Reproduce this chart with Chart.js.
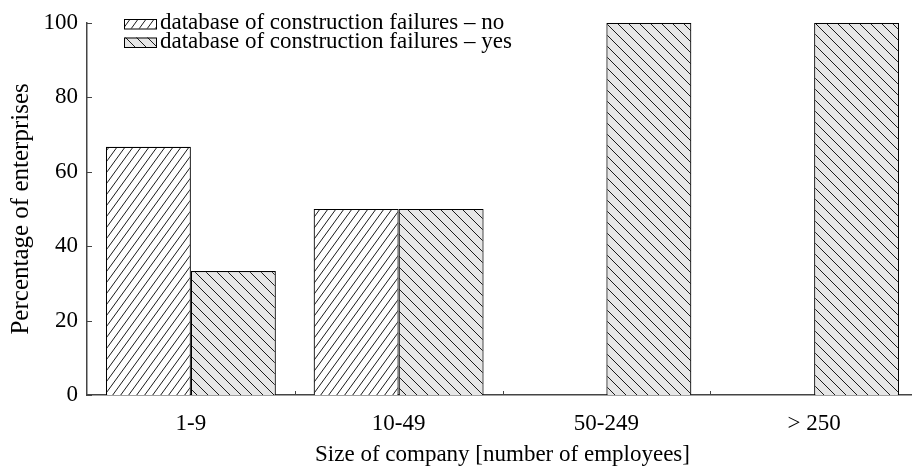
<!DOCTYPE html>
<html>
<head>
<meta charset="utf-8">
<script src="https://cdn.jsdelivr.net/npm/chart.js@4"></script>
<style>
  html, body { margin: 0; padding: 0; overflow: hidden; background: #fff; }
  #wrap { width: 920px; height: 469px; }
</style>
</head>
<body>
<div id="wrap"><canvas id="myChart"></canvas></div>
<script>
const sizeLabels = ["1-9", "10-49", "50-249", "> 250"];
const failuresNo = [66.7, 50, 0, 0];
const failuresYes = [33.3, 50, 100, 100];
const seriesNames = [
  "database of construction failures \u2013 no",
  "database of construction failures \u2013 yes",
];
const yTickValues = [0, 20, 40, 60, 80, 100];

const serif = "'Liberation Serif', 'Times New Roman', serif";

// small tile with one diagonal line, repeated over the bar
const makeHatch = (bg, dir, w, h) => {
  const c = document.createElement("canvas");
  c.width = w;
  c.height = h;
  const g = c.getContext("2d");
  g.fillStyle = bg;
  g.fillRect(0, 0, w, h);
  g.strokeStyle = "#1a1a1a";
  g.lineWidth = 1;
  g.beginPath();
  const segs =
    dir === "/"
      ? [[0, h, w, 0], [-w, h, 0, 0], [w, h, 2 * w, 0]]
      : [[0, 0, w, h], [-w, 0, 0, h], [w, 0, 2 * w, h]];
  segs.forEach(([x1, y1, x2, y2]) => {
    g.moveTo(x1, y1);
    g.lineTo(x2, y2);
  });
  g.stroke();
  return g.createPattern(c, "repeat");
};

const hatchNo = makeHatch("#ffffff", "/", 8, 11);
const hatchYes = makeHatch("#e6e6e6", "\\", 11, 11);

// inside tick marks + legend in the top left corner
const extras = {
  id: "extras",
  afterDraw(chart) {
    const ctx = chart.ctx;
    const x = chart.scales.x;
    const y = chart.scales.y;
    const area = chart.chartArea;
    ctx.save();
    ctx.strokeStyle = "#444";
    ctx.lineWidth = 1;
    ctx.beginPath();
    yTickValues.forEach((v) => {
      const py = Math.round(y.getPixelForValue(v)) + 0.5;
      ctx.moveTo(area.left, py);
      ctx.lineTo(area.left + 5, py);
    });
    for (let i = 0; i < sizeLabels.length - 1; i++) {
      const px =
        Math.round((x.getPixelForValue(i) + x.getPixelForValue(i + 1)) / 2) + 0.5;
      ctx.moveTo(px, area.bottom);
      ctx.lineTo(px, area.bottom - 4);
    }
    ctx.stroke();

    const fills = [hatchNo, hatchYes];
    ctx.font = "23px " + serif;
    ctx.textBaseline = "alphabetic";
    seriesNames.forEach((name, i) => {
      const by = 19 + i * 18.5;
      ctx.fillStyle = fills[i];
      ctx.fillRect(124, by, 32, 9.5);
      ctx.strokeStyle = "#000";
      ctx.strokeRect(124.5, by + 0.5, 32, 9.5);
      ctx.fillStyle = "#000";
      ctx.fillText(name, 160, by + 10);
    });
    ctx.restore();
  },
};

new Chart(document.getElementById("myChart"), {
  type: "bar",
  data: {
    labels: sizeLabels,
    datasets: [
      {
        label: seriesNames[0],
        data: failuresNo,
        backgroundColor: hatchNo,
        borderColor: "#000",
        borderWidth: 1.2,
        borderSkipped: "bottom",
      },
      {
        label: seriesNames[1],
        data: failuresYes,
        backgroundColor: hatchYes,
        borderColor: "#000",
        borderWidth: 1.2,
        borderSkipped: "bottom",
      },
    ],
  },
  options: {
    responsive: true,
    maintainAspectRatio: false,
    animation: false,
    devicePixelRatio: 1,
    categoryPercentage: 0.818,
    barPercentage: 1,
    layout: { padding: { top: 20, right: 2, left: 0, bottom: 0 } },
    plugins: {
      legend: { display: false },
      tooltip: { enabled: false },
    },
    scales: {
      x: {
        grid: { display: false, drawTicks: false },
        border: { display: true, color: "#444", width: 1.5 },
        ticks: {
          color: "#000",
          font: { family: serif, size: 23 },
          padding: 15,
          maxRotation: 0,
        },
        title: {
          display: true,
          text: "Size of company [number of employees]",
          color: "#000",
          font: { family: serif, size: 23 },
          padding: { top: 0, bottom: 0 },
        },
        afterFit: (scale) => {
          scale.height = 74;
        },
      },
      y: {
        min: 0,
        max: 100,
        afterBuildTicks: (scale) => {
          scale.ticks = yTickValues.map((v) => ({ value: v }));
        },
        grid: { display: false, drawTicks: false },
        border: { display: true, color: "#444", width: 1.5 },
        ticks: {
          color: "#000",
          font: { family: serif, size: 23 },
          padding: 9,
        },
        title: {
          display: true,
          text: "Percentage of enterprises",
          color: "#000",
          font: { family: serif, size: 25 },
          padding: { top: 6, bottom: 0 },
        },
        afterFit: (scale) => {
          scale.width = 87;
        },
      },
    },
  },
  plugins: [extras],
});
</script>
</body>
</html>
